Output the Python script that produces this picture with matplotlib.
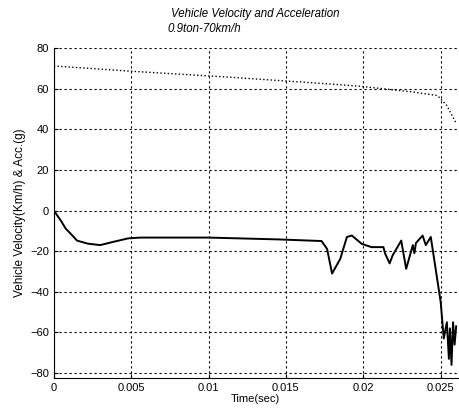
import matplotlib.pyplot as plt
import numpy as np

# velocity (km/h)
vel_t = [0.0, 0.005, 0.0113, 0.0177, 0.0198, 0.0233, 0.0248, 0.0254, 0.0260]
vel_v = [71.2, 68.6, 65.7, 62.4, 61.2, 58.3, 56.6, 51.7, 43.0]

# acceleration (g)
acc_t = [0.0, 0.00045, 0.00077, 0.0012, 0.0015, 0.0022, 0.003, 0.0039, 0.0048,
         0.0056, 0.010, 0.0145, 0.0173, 0.01766, 0.01798, 0.01851, 0.01894,
         0.01926, 0.0199, 0.02053, 0.0213, 0.0214, 0.0217, 0.0219, 0.02245,
         0.02277, 0.0232, 0.0233, 0.0234, 0.02383, 0.02404, 0.02436, 0.0250,
         0.0252, 0.0254, 0.02553, 0.0256, 0.0257, 0.0258, 0.0259, 0.0260]
acc_v = [0.0, -4.9, -8.9, -12.3, -14.8, -16.3, -17.0, -15.3, -13.7,
         -13.3, -13.3, -14.2, -15.0, -18.9, -31.0, -23.8, -13.0,
         -12.3, -16.4, -18.0, -18.0, -21.0, -26.0, -22.0, -14.8,
         -28.7, -17.0, -21.0, -16.0, -12.3, -17.0, -13.0, -45.0,
         -63.0, -55.0, -73.0, -58.0, -76.0, -55.0, -66.0, -57.0]

xticks = [0, 0.005, 0.01, 0.015, 0.02, 0.025]
xtick_labels = ["0", "0.005", "0.01", "0.015", "0.02", "0.025"]
yticks = [-80, -60, -40, -20, 0, 20, 40, 60, 80]

plt.rcParams["font.family"] = "Liberation Sans"
fontsize = 8

fig = plt.figure(figsize=(4.6, 4.11), dpi=100)
ax = fig.add_axes([0.117, 0.080, 0.878, 0.803])

ax.plot(vel_t, vel_v, color="black", linestyle=":", linewidth=1.0)
ax.plot(acc_t, acc_v, color="black", linewidth=1.4)

ax.set_xlim(0, 0.0261)
ax.set_ylim(-82.5, 80)
ax.set_xticks(xticks)
ax.set_xticklabels(xtick_labels)
ax.set_yticks(yticks)
ax.tick_params(direction="in", labelsize=fontsize, length=3)
ax.grid(True, color="black", linestyle=(0, (2, 2.5)), linewidth=0.8)

for side in ["top", "right"]:
    ax.spines[side].set_visible(False)

ax.set_xlabel("Time(sec)", fontsize=fontsize, labelpad=1)
ax.set_ylabel("Vehicle Velocity(Km/h) & Acc.(g)", fontsize=8.5, labelpad=3)

fig.text(0.555, 0.965, "Vehicle Velocity and Acceleration", fontsize=8.3,
         style="italic", ha="center", va="center")
fig.text(0.365, 0.93, "0.9ton-70km/h", fontsize=8.3, style="italic",
         ha="left", va="center")

plt.savefig("out.png", dpi=100)
